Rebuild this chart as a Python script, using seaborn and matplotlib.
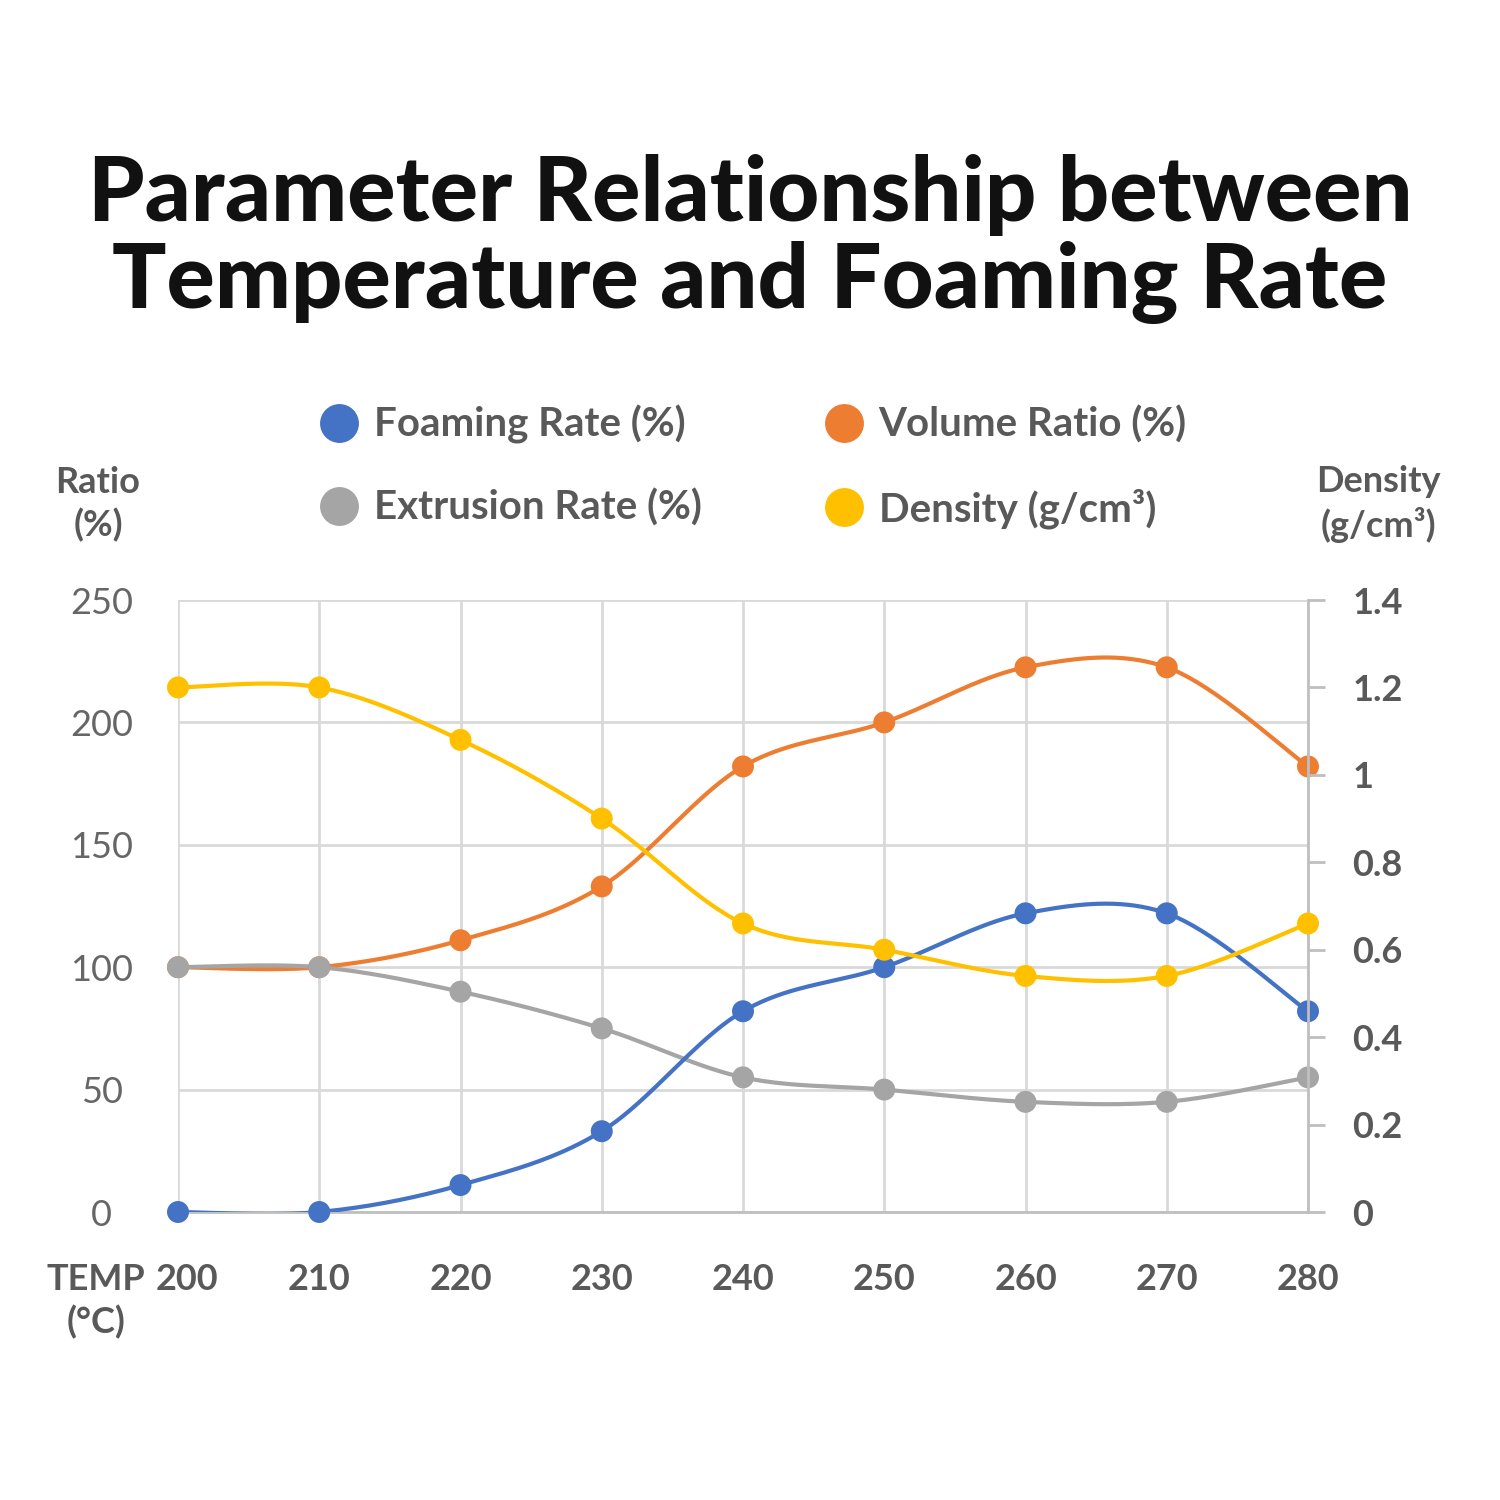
import numpy as np
import pandas as pd
import matplotlib.pyplot as plt
import matplotlib.transforms as mtransforms
import seaborn as sns
from matplotlib.lines import Line2D
from matplotlib.ticker import FixedLocator

# chart values
temps = [200, 210, 220, 230, 240, 250, 260, 270, 280]
foaming_rate = [0, 0, 11, 33, 82, 100, 122, 122, 82]
volume_ratio = [100, 100, 111, 133, 182, 200, 222.5, 222.5, 182]
extrusion_rate = [100, 100, 90, 75, 55, 50, 45, 45, 55]
density = [1.2, 1.2, 1.08, 0.90, 0.66, 0.60, 0.54, 0.54, 0.66]

ratio_ticks = [0, 50, 100, 150, 200, 250]
density_ticks = [0, 0.2, 0.4, 0.6, 0.8, 1.0, 1.2, 1.4]
density_labels = ['0', '0.2', '0.4', '0.6', '0.8', '1', '1.2', '1.4']

BLUE, ORANGE, GREY, YELLOW = '#4472C4', '#ED7D31', '#A5A5A5', '#FFC000'
TXT = '#595959'
GRID = '#D9D9D9'

sns.set_style('white')
plt.rcParams['font.family'] = ['Lato', 'DejaVu Sans']


def smooth(x, y, n=40):
    '''Catmull-Rom curve through the points (like a spreadsheet "smoothed line").'''
    x = np.asarray(x, float)
    y = np.asarray(y, float)
    px = np.concatenate([[x[0]], x, [x[-1]]])
    py = np.concatenate([[y[0]], y, [y[-1]]])
    xs, ys = [], []
    for i in range(1, len(px) - 2):
        t = np.linspace(0, 1, n)
        b0 = (-t + 2 * t**2 - t**3) / 2
        b1 = (2 - 5 * t**2 + 3 * t**3) / 2
        b2 = (t + 4 * t**2 - 3 * t**3) / 2
        b3 = (-t**2 + t**3) / 2
        xs.append(b0 * px[i-1] + b1 * px[i] + b2 * px[i+1] + b3 * px[i+2])
        ys.append(b0 * py[i-1] + b1 * py[i] + b2 * py[i+1] + b3 * py[i+2])
    return pd.DataFrame({'x': np.concatenate(xs), 'y': np.concatenate(ys)})


fig = plt.figure(figsize=(15, 15), dpi=100)
ax = fig.add_axes([178/1500, 1 - 1212/1500, 1130/1500, 612/1500])
ax2 = ax.twinx()

# left axis series (grey drawn over orange, as in the original)
for vals, col in [(volume_ratio, ORANGE), (extrusion_rate, GREY), (foaming_rate, BLUE)]:
    sns.lineplot(data=smooth(temps, vals), x='x', y='y', ax=ax, color=col, lw=3,
                 sort=False, estimator=None, zorder=3)
    sns.scatterplot(x=temps, y=vals, ax=ax, color=col, s=250, edgecolor='none',
                    zorder=4, clip_on=False)

# right axis series
sns.lineplot(data=smooth(temps, density), x='x', y='y', ax=ax2, color=YELLOW, lw=3,
             sort=False, estimator=None, zorder=3)
sns.scatterplot(x=temps, y=density, ax=ax2, color=YELLOW, s=250, edgecolor='none',
                zorder=4, clip_on=False)

ax.set_xlim(200, 280)
ax.set_ylim(0, 250)
ax2.set_ylim(0, 1.4)
ax.set_xticks(temps)
ax.set_xticklabels([str(t) for t in temps])
ax.set_yticks(ratio_ticks)
ax2.yaxis.set_major_locator(FixedLocator(density_ticks))
ax2.set_yticklabels(density_labels)
ax.set_xlabel('')
ax.set_ylabel('')
ax2.set_xlabel('')
ax2.set_ylabel('')

ax.grid(True, color=GRID, lw=2)
ax.set_axisbelow(True)
for s in ['top', 'left', 'right']:
    ax.spines[s].set_visible(False)
for s in ['top', 'left']:
    ax2.spines[s].set_visible(False)
ax.spines['bottom'].set_color('#BFBFBF')
ax.spines['bottom'].set_linewidth(2)
ax2.spines['bottom'].set_visible(False)
ax2.spines['right'].set_color('#BFBFBF')
ax2.spines['right'].set_linewidth(2)

ax.tick_params(axis='y', length=0, pad=55, labelsize=26, labelcolor='#666666')
for lb in ax.get_yticklabels():
    lb.set_horizontalalignment('center')
ax.tick_params(axis='x', length=0, pad=37, labelsize=26, labelcolor=TXT)
for lb in ax.get_xticklabels():
    lb.set_fontweight('bold')
# nudge the first temperature a little right, clear of the TEMP caption
first = ax.get_xticklabels()[0]
first.set_transform(first.get_transform() +
                    mtransforms.ScaledTranslation(9/100, 0, fig.dpi_scale_trans))
ax2.tick_params(axis='y', length=12, width=2, color='#BFBFBF', pad=20,
                labelsize=26, labelcolor=TXT)
for lb in ax2.get_yticklabels():
    lb.set_fontweight('bold')

# axis captions
fig.text(98/1500, 1 - 504/1500, 'Ratio\n(%)', ha='center', va='center', fontsize=26,
         color=TXT, fontweight='bold', linespacing=1.3)
fig.text(1378/1500, 1 - 504/1500, 'Density\n(g/cm³)', ha='center', va='center', fontsize=26,
         color=TXT, fontweight='bold', linespacing=1.3)
fig.text(96/1500, 1 - 1301/1500, 'TEMP\n(°C)', ha='center', va='center', fontsize=26,
         color=TXT, fontweight='bold', linespacing=1.3)

# legend
names = ['Foaming Rate (%)', 'Extrusion Rate (%)', 'Volume Ratio (%)', 'Density (g/cm³)']
cols = [BLUE, GREY, ORANGE, YELLOW]
handles = [Line2D([], [], marker='o', ls='none', ms=28, color=c, mec='none') for c in cols]
leg = fig.legend(handles, names, ncol=2, loc='center', bbox_to_anchor=(752/1500, 1 - 467/1500),
                 frameon=False, fontsize=29, handletextpad=0.3, columnspacing=3.0,
                 labelspacing=1.1, handlelength=1.1)
for t in leg.get_texts():
    t.set_color(TXT)
    t.set_fontweight('bold')

fig.suptitle('Parameter Relationship between\nTemperature and Foaming Rate', x=0.5,
             y=1 - 239/1500, va='center', fontsize=65, fontweight='black', color='#111111',
             linespacing=1.07)

fig.savefig('out.png', dpi=100, facecolor='white')
